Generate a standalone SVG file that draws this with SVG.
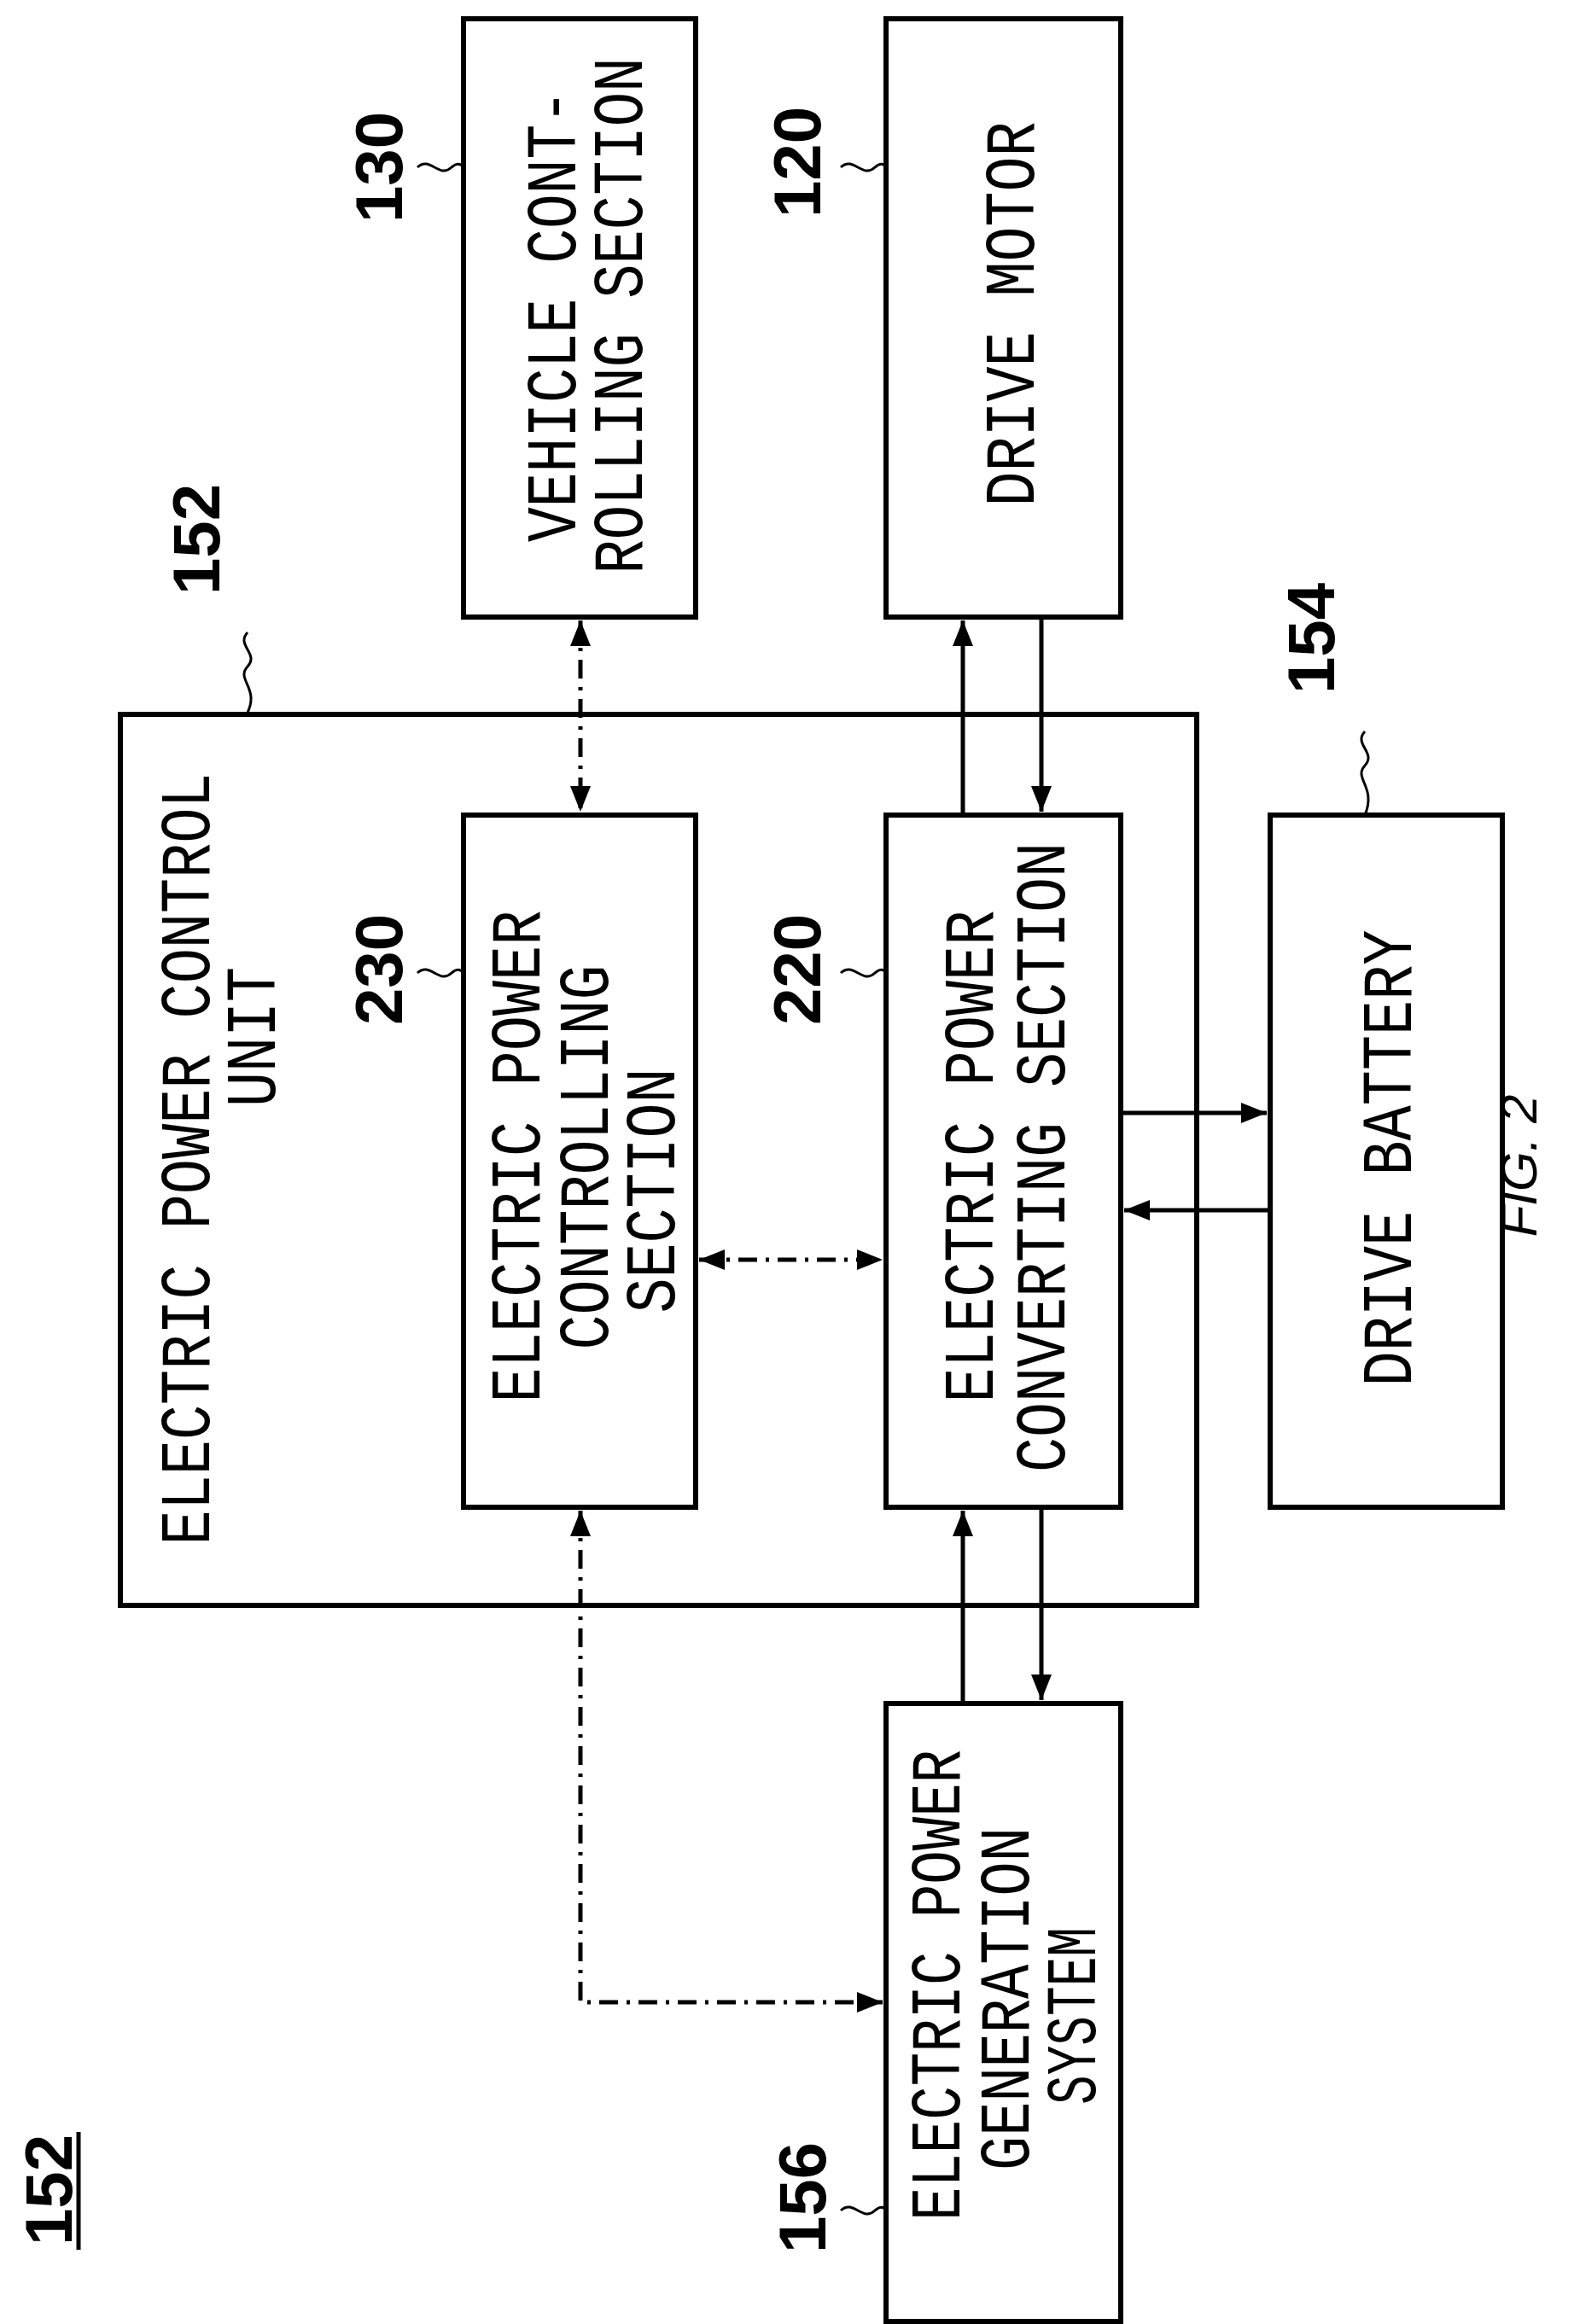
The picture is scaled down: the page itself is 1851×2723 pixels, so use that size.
<svg xmlns="http://www.w3.org/2000/svg" width="1851" height="2723" viewBox="0 0 1851 2723">
<style>
.box{fill:none;stroke:#000;stroke-width:6}
.t{font-family:"Liberation Mono",monospace;font-size:84px;text-anchor:middle;fill:#000}
.n{font-family:"Liberation Sans",Arial,sans-serif;font-weight:bold;font-size:78px;text-anchor:middle;fill:#000}
.s{fill:none;stroke:#000;stroke-width:3}
.c{fill:none;stroke:#000;stroke-width:5}
.d{fill:none;stroke:#000;stroke-width:5;stroke-dasharray:22 10 4 10}
</style>
<defs>
<marker id="a" viewBox="0 0 10 10" refX="10" refY="5" markerWidth="6" markerHeight="6" orient="auto-start-reverse" markerUnits="strokeWidth"><path d="M0,1 L10,5 L0,9 Z" fill="#000"/></marker>
</defs>
<rect width="1851" height="2723" fill="#fff"/>
<g id="unit152"><rect class="box" x="141" y="837" width="1261" height="1044"/>
<text class="t" transform="translate(245,1358) rotate(-90)" textLength="905" lengthAdjust="spacingAndGlyphs">ELECTRIC POWER CONTROL</text>
<text class="t" transform="translate(322,1215) rotate(-90)" textLength="164" lengthAdjust="spacingAndGlyphs">UNIT</text>
<text class="n" transform="translate(257,632) rotate(-90)">152</text>
<path class="s" d="M290,741 c-14,15 14,25 0,40 c-14,15 14,25 0,54"/></g>
<g id="n130"><rect class="box" x="543" y="22" width="272" height="701"/>
<text class="t" transform="translate(674,370) rotate(-90)" textLength="530" lengthAdjust="spacingAndGlyphs">VEHICLE CONT-</text>
<text class="t" transform="translate(752,370) rotate(-90)" textLength="605" lengthAdjust="spacingAndGlyphs">ROLLING SECTION</text>
<text class="n" transform="translate(471,196) rotate(-90)">130</text>
<path class="s" d="M489,196 c15,-14 25,14 40,0 c6,-5 10,-5 14,0"/></g>
<g id="n120"><rect class="box" x="1038" y="22" width="275" height="701"/>
<text class="t" transform="translate(1211,368) rotate(-90)" textLength="451" lengthAdjust="spacingAndGlyphs">DRIVE MOTOR</text>
<text class="n" transform="translate(961,190) rotate(-90)">120</text>
<path class="s" d="M985,196 c15,-14 25,14 40,0 c6,-5 10,-5 13,0"/></g>
<g id="n230"><rect class="box" x="543" y="955" width="272" height="811"/>
<text class="t" transform="translate(632,1355) rotate(-90)" textLength="577" lengthAdjust="spacingAndGlyphs">ELECTRIC POWER</text>
<text class="t" transform="translate(712,1356) rotate(-90)" textLength="451" lengthAdjust="spacingAndGlyphs">CONTROLLING</text>
<text class="t" transform="translate(790,1395) rotate(-90)" textLength="287" lengthAdjust="spacingAndGlyphs">SECTION</text>
<text class="n" transform="translate(471,1136) rotate(-90)">230</text>
<path class="s" d="M489,1140 c15,-14 25,14 40,0 c6,-5 10,-5 14,0"/></g>
<g id="n220"><rect class="box" x="1038" y="955" width="275" height="811"/>
<text class="t" transform="translate(1163,1355) rotate(-90)" textLength="577" lengthAdjust="spacingAndGlyphs">ELECTRIC POWER</text>
<text class="t" transform="translate(1247,1356) rotate(-90)" textLength="738" lengthAdjust="spacingAndGlyphs">CONVERTING SECTION</text>
<text class="n" transform="translate(961,1136) rotate(-90)">220</text>
<path class="s" d="M985,1140 c15,-14 25,14 40,0 c6,-5 10,-5 13,0"/></g>
<g id="n154"><rect class="box" x="1488" y="955" width="272" height="811"/>
<text class="t" transform="translate(1653,1357) rotate(-90)" textLength="535" lengthAdjust="spacingAndGlyphs">DRIVE BATTERY</text>
<text class="n" transform="translate(1563,748) rotate(-90)">154</text>
<path class="s" d="M1599,857 c-14,15 14,25 0,40 c-14,15 14,25 0,58"/></g>
<g id="n156"><rect class="box" x="1038" y="1996" width="275" height="724"/>
<text class="t" transform="translate(1124,2326) rotate(-90)" textLength="552" lengthAdjust="spacingAndGlyphs">ELECTRIC POWER</text>
<text class="t" transform="translate(1205,2342) rotate(-90)" textLength="402" lengthAdjust="spacingAndGlyphs">GENERATION</text>
<text class="t" transform="translate(1283,2362) rotate(-90)" textLength="208" lengthAdjust="spacingAndGlyphs">SYSTEM</text>
<text class="n" transform="translate(967,2575) rotate(-90)">156</text>
<path class="s" d="M985,2590 c15,-14 25,14 40,0 c6,-5 10,-5 13,0"/></g>
<g id="labels">
<text class="n" transform="translate(84,2566) rotate(-90)">152</text>
<line x1="92" y1="2498" x2="92" y2="2636" stroke="#000" stroke-width="5"/>
<text transform="translate(1800,1366) rotate(-90)" font-family="Liberation Sans,Arial,sans-serif" font-style="italic" font-size="60" text-anchor="middle">FIG. 2</text>
</g>
<g id="connectors">
<line class="d" x1="680" y1="727" x2="680" y2="951" marker-start="url(#a)" marker-end="url(#a)"/>
<line class="c" x1="1128" y1="955" x2="1128" y2="727" marker-end="url(#a)"/>
<line class="c" x1="1220" y1="723" x2="1220" y2="951" marker-end="url(#a)"/>
<line class="c" x1="1313" y1="1304" x2="1484" y2="1304" marker-end="url(#a)"/>
<line class="c" x1="1488" y1="1418" x2="1317" y2="1418" marker-end="url(#a)"/>
<line class="d" x1="819" y1="1476" x2="1034" y2="1476" marker-start="url(#a)" marker-end="url(#a)"/>
<line class="c" x1="1128" y1="1996" x2="1128" y2="1770" marker-end="url(#a)"/>
<line class="c" x1="1220" y1="1766" x2="1220" y2="1992" marker-end="url(#a)"/>
<path class="d" d="M680,1770 L680,2346 L1034,2346" marker-start="url(#a)" marker-end="url(#a)"/>
</g>
</svg>
